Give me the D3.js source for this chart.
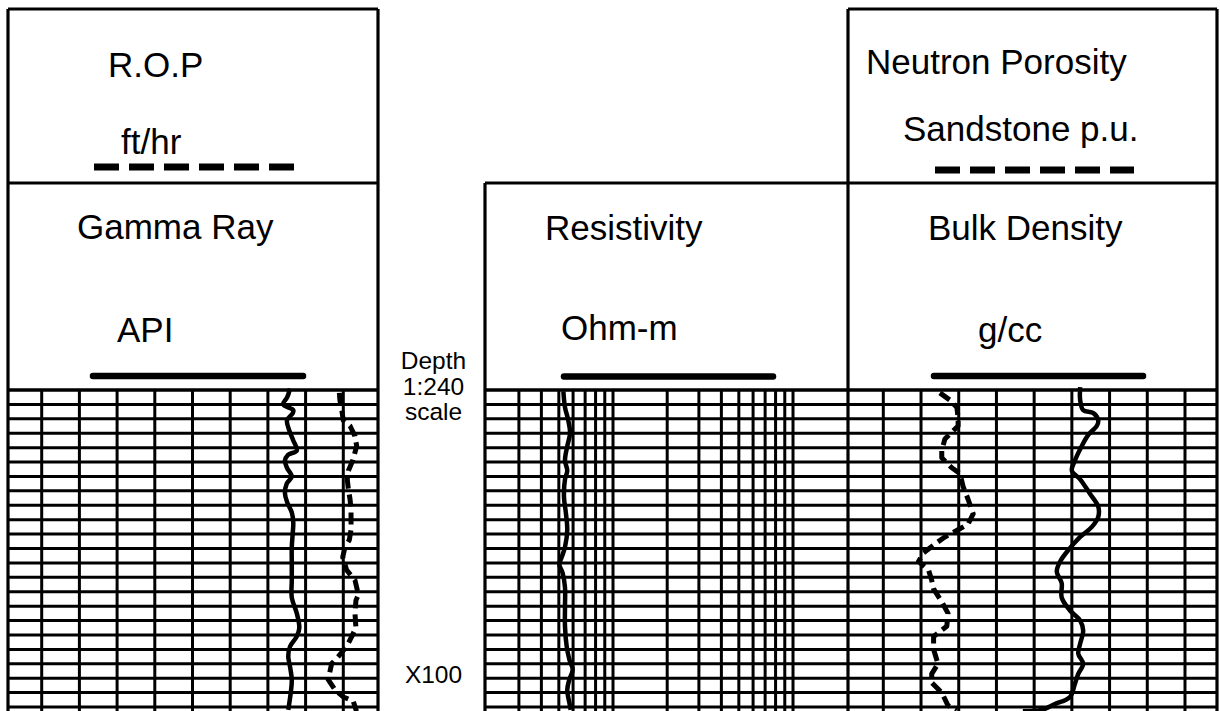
<!DOCTYPE html>
<html><head><meta charset="utf-8">
<script src="https://cdn.jsdelivr.net/npm/d3@7"></script>
<style>
body{margin:0;background:#fff;overflow:hidden}
svg{display:block}
text{font-family:"Liberation Sans",Arial,sans-serif;fill:#000}
</style>
</head><body><svg id="chart" width="1220" height="711"></svg>
<script>
// ---------- data ----------
const depthLines = [80,81,82,83,84,85,86,87,88,89,90,91,92,93,94,95,96,97,98,99,100,101,102];
const grGrid = [15,30,45,60,75,90,105,120,135];
const resGrid = [3,4,5,6,7,8,9,10,20,30,40,50,60,70,80,90,100];
const rhobGrid = [2.05,2.15,2.25,2.35,2.45,2.55,2.65,2.75,2.85];

const grDepth = [79.9,80.5,81.0,81.4,81.6,82.1,82.8,83.5,84.2,84.5,84.9,85.4,86.0,86.5,87.2,87.8,88.5,89.2,89.9,90.9,92.0,93.2,94.4,95.5,96.5,97.1,97.8,98.5,99.2,100.1,101.0,102.2];
const grApi = [113.8,112.7,111.1,115.1,114.9,112.6,113.5,115.1,116.5,113.0,111.8,112.6,114.5,112.5,111.8,112.7,114.5,115.1,114.9,114.5,114.5,114.5,114.5,116.5,117.5,116.5,113.8,113.1,113.8,114.5,114.1,113.1];

const ropDepth = [80.2,80.7,81.4,82.1,82.5,83.2,83.9,84.9,85.6,86.2,86.9,87.6,88.3,89.0,89.7,90.4,90.9,91.6,92.5,93.2,94.2,94.6,95.5,96.5,97.1,97.8,98.5,99.0,100.1,100.8,101.3,101.6,102.3];
const ropFtHr = [177.9,178.2,179.2,180.0,183.6,186.2,187.1,185.0,182.7,182.1,182.7,183.6,184.1,184.1,184.1,183.2,180.9,179.7,181.8,186.2,188.0,186.7,186.2,186.7,184.5,181.8,177.3,173.8,172.0,175.6,180.0,185.3,187.0];

const resDepth = [80.1,81.2,82.1,83.0,83.9,84.9,85.6,86.2,87.4,88.6,89.7,90.9,91.6,92.1,92.7,93.7,95.0,96.4,97.8,98.7,99.4,100.1,100.8,101.7,102.2];
const resOhmm = [5.30,5.41,5.64,5.77,5.57,5.41,5.57,5.41,5.34,5.48,5.57,5.41,5.19,5.03,5.25,5.41,5.41,5.41,5.53,5.72,5.97,5.72,5.57,5.72,5.82];

const nphiDepth = [80.2,80.7,81.2,81.9,82.5,83.4,84.2,84.7,85.4,85.8,86.7,87.6,88.6,89.3,89.7,90.2,90.6,91.3,91.9,92.5,93.2,93.8,94.7,95.5,96.4,97.1,98.0,99.0,99.7,100.3,101.0,101.9,102.2];
const nphiPu = [30.0,28.4,27.3,27.1,27.1,29.2,29.7,29.7,28.1,26.8,26.3,25.5,24.7,25.5,27.1,29.2,30.5,32.6,33.4,31.8,31.3,31.0,29.7,28.7,28.9,31.0,31.0,30.3,31.3,31.3,29.7,28.7,27.3];

const rhobDepth = [79.8,80.7,81.4,81.6,82.1,82.5,83.1,83.9,84.9,85.6,86.2,87.2,88.1,88.8,89.5,90.2,91.1,91.9,92.6,93.4,94.4,95.3,96.0,96.7,97.6,98.3,99.0,99.7,100.4,101.3,101.8,102.2,102.3];
const rhobGcc = [2.572,2.572,2.580,2.607,2.620,2.616,2.594,2.576,2.558,2.550,2.572,2.598,2.620,2.620,2.603,2.572,2.541,2.519,2.510,2.523,2.523,2.545,2.572,2.580,2.572,2.567,2.580,2.567,2.558,2.545,2.505,2.470,2.420];

const depthLabelLines = ["Depth","1:240","scale"];
const depthMark = 100;
const depthMarkLabel = "X100";

// ---------- layout ----------
const svg = d3.select("#chart");
const T1 = {x0:8, x1:378};
const T2 = {x0:485, x1:848};
const T3 = {x0:848, x1:1217};
const headTop = 9, headMid = 183, gridTop = 390, bottom = 711;

const y = d3.scaleLinear().domain([80,102]).range([gridTop, gridTop + 22*14.41]);
const xGR = d3.scaleLinear().domain([0,150]).range([4,381]);
const xROP = d3.scaleLinear().domain([0,200]).range([4,381]);
const xRES = d3.scaleLog().domain([2,200]).range([487.2,847.2]);
const xRHOB = d3.scaleLinear().domain([1.95,2.95]).range([845.6,1222.7]);
const xNPHI = d3.scaleLinear().domain([45,-15]).range([845.6,1222.7]);

const gridW = 3, borderW = 3.2;

// clip paths
const defs = svg.append("defs");
[["c1",T1],["c2",T2],["c3",T3]].forEach(([id,t])=>{
  defs.append("clipPath").attr("id",id).append("rect")
    .attr("x",t.x0).attr("y",headMid+1).attr("width",t.x1-t.x0).attr("height",bottom-headMid);
});

// horizontal grid lines
const gGrid = svg.append("g").attr("stroke","#000").attr("stroke-width",gridW);
[T1,T2,T3].forEach(t=>{
  gGrid.selectAll(null).data(depthLines).enter().append("line")
    .attr("x1",t.x0).attr("x2",t.x1)
    .attr("y1",d=>y(d)).attr("y2",d=>y(d));
});
// vertical grid lines
gGrid.selectAll(null).data(grGrid).enter().append("line")
  .attr("x1",d=>xGR(d)).attr("x2",d=>xGR(d)).attr("y1",gridTop).attr("y2",bottom);
gGrid.selectAll(null).data(resGrid).enter().append("line")
  .attr("x1",d=>xRES(d)).attr("x2",d=>xRES(d)).attr("y1",gridTop).attr("y2",bottom);
gGrid.selectAll(null).data(rhobGrid).enter().append("line")
  .attr("x1",d=>xRHOB(d)).attr("x2",d=>xRHOB(d)).attr("y1",gridTop).attr("y2",bottom);

// curves
function curve(depths, vals, xs, clip, dashed, smooth){
  const pts = depths.map((d,i)=>[xs(vals[i]), y(d)]);
  const line = d3.line().curve(smooth ? d3.curveCatmullRom.alpha(0.5) : d3.curveLinear);
  svg.append("path").attr("d",line(pts))
    .attr("clip-path",`url(#${clip})`)
    .attr("fill","none").attr("stroke","#000")
    .attr("stroke-width",dashed?5:4.5)
    .attr("stroke-linejoin","round")
    .attr("stroke-dasharray",dashed?"12,6":null);
}
curve(grDepth, grApi, xGR, "c1", false, true);
curve(ropDepth, ropFtHr, xROP, "c1", true, false);
curve(resDepth, resOhmm, xRES, "c2", false, true);
curve(nphiDepth, nphiPu, xNPHI, "c3", true, false);
curve(rhobDepth, rhobGcc, xRHOB, "c3", false, true);

// borders
const gB = svg.append("g").attr("stroke","#000").attr("stroke-width",borderW).attr("fill","none");
function seg(x1,y1,x2,y2){ gB.append("line").attr("x1",x1).attr("y1",y1).attr("x2",x2).attr("y2",y2); }
// track 1
seg(T1.x0,headTop,T1.x0,bottom); seg(T1.x1,headTop,T1.x1,bottom);
seg(T1.x0,headTop,T1.x1,headTop); seg(T1.x0,headMid,T1.x1,headMid); seg(T1.x0,gridTop,T1.x1,gridTop);
// track 2
seg(T2.x0,headMid,T2.x0,bottom); seg(T2.x1,headTop,T2.x1,bottom);
seg(T2.x0,headMid,T2.x1,headMid); seg(T2.x0,gridTop,T2.x1,gridTop);
// track 3
seg(T3.x1,headTop,T3.x1,bottom);
seg(T3.x0,headTop,T3.x1,headTop); seg(T3.x0,headMid,T3.x1,headMid); seg(T3.x0,gridTop,T3.x1,gridTop);

// header texts
const fs = 35;
const texts = [
  ["R.O.P",108,77],["ft/hr",121,154],["Gamma Ray",77,239],["API",117,342],
  ["Resistivity",545,240],["Ohm-m",561,340],
  ["Neutron Porosity",866,74],["Sandstone p.u.",903,141],["Bulk Density",928,240],["g/cc",978,342]
];
svg.append("g").selectAll("text").data(texts).enter().append("text")
  .attr("x",d=>d[1]).attr("y",d=>d[2]).attr("font-size",fs).text(d=>d[0]);

// legend lines
const legend = [
  {x1:94,x2:294,y:167,dash:true},
  {x1:935,x2:1134,y:170,dash:true},
  {x1:93,x2:303,y:376,dash:false},
  {x1:564,x2:773,y:376.5,dash:false},
  {x1:934,x2:1143,y:376,dash:false}
];
svg.append("g").selectAll("line").data(legend).enter().append("line")
  .attr("x1",d=>d.x1).attr("x2",d=>d.x2).attr("y1",d=>d.y).attr("y2",d=>d.y)
  .attr("stroke","#000").attr("stroke-width",d=>d.dash?7:6.5)
  .attr("stroke-linecap",d=>d.dash?"butt":"round")
  .attr("stroke-dasharray",d=>d.dash?"25,10":null);

// depth column
const dc = (T1.x1 + T2.x0)/2 + 2;
svg.append("g").selectAll("text").data(depthLabelLines).enter().append("text")
  .attr("x",dc).attr("y",(d,i)=>369 + i*25.5).attr("text-anchor","middle")
  .attr("font-size",24.5).text(d=>d);
svg.append("text").attr("x",dc).attr("y",y(depthMark)+5).attr("text-anchor","middle")
  .attr("font-size",24.5).text(depthMarkLabel);
</script>
</body></html>
